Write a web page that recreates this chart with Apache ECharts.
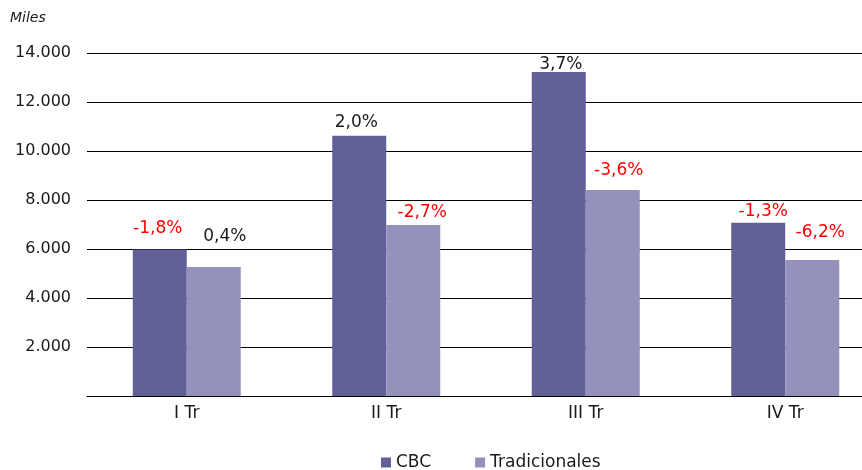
<!DOCTYPE html>
<html>
<head>
<meta charset="utf-8">
<script src="https://cdn.jsdelivr.net/npm/echarts@6/dist/echarts.min.js"></script>
<style>
	html, body { margin: 0; padding: 0; background: #fff; overflow: hidden; }
	#wrap { width: 862px; height: 470px; overflow: hidden; }
	#chart { width: 885px; height: 470px; }
</style>
</head>
<body>
<div id="wrap"><div id="chart"></div></div>
<script>
//	datos del gráfico
var categories = ['I Tr', 'II Tr', 'III Tr', 'IV Tr'];
var cbcValues = [5980, 10620, 13220, 7070];
var tradValues = [5270, 6980, 8410, 5550];
var cbcPct = [-1.8, 2.0, 3.7, -1.3];
var tradPct = [0.4, -2.7, -3.6, -6.2];
var yTicks = [0, 2000, 4000, 6000, 8000, 10000, 12000, 14000];

//	posición de las etiquetas
var cbcLabelOffset = [-2, -3, 2, 5];
var tradLabelOffset = [11, 9, 6, 8];
var cbcLabelDist = [12, 5, -1, 3];
var tradLabelDist = [22, 4, 11, 19];

var FONT = '"DejaVu Sans", Verdana, sans-serif';

function fmtPct(v) {
	return v.toFixed(1).replace('.', ',') + '%';
}
function fmtMiles(v) {
	if(v === 0) return '';
	return String(v).replace(/\B(?=(\d{3})+(?!\d))/g, '.');
}

function buildData(values, pct, offX, dist) {
	return values.map(function(v, i) {
		return {
			value: v,
			label: {
				show: true,
				position: 'top',
				distance: dist[i],
				offset: [offX[i], 0],
				formatter: fmtPct(pct[i]),
				color: pct[i] < 0 ? '#ff0000' : '#1a1a1a',
				fontSize: 17,
				fontFamily: FONT
			}
		};
	});
}

var chart = echarts.init(document.getElementById('chart'));

var option = {
	animation: false,
	backgroundColor: '#fff',
	grid: {
		left: 87,
		right: 0,
		top: 53,
		bottom: 74
	},
	graphic: [{
		type: 'text',
		left: 10,
		top: 11,
		style: {
			text: 'Miles',
			font: 'italic 14px ' + FONT,
			fill: '#1a1a1a'
		}
	}],
	legend: {
		left: 376,
		top: 449,
		itemWidth: 10,
		itemHeight: 10,
		itemGap: 44,
		icon: 'rect',
		textStyle: { fontSize: 17, color: '#1a1a1a', fontFamily: FONT },
		data: ['CBC', 'Tradicionales']
	},
	xAxis: {
		type: 'category',
		data: categories,
		axisLine: { lineStyle: { color: '#000', width: 1 } },
		axisTick: { show: false },
		axisLabel: { color: '#1a1a1a', fontSize: 17, fontFamily: FONT, margin: 9 }
	},
	yAxis: {
		type: 'value',
		min: yTicks[0],
		max: yTicks[yTicks.length - 1],
		interval: 2000,
		axisLine: { show: false },
		axisTick: { show: false },
		splitLine: { lineStyle: { color: '#000', width: 1 } },
		axisLabel: {
			color: '#1a1a1a',
			fontSize: 16,
			fontFamily: FONT,
			margin: 16,
			formatter: fmtMiles
		}
	},
	series: [{
		name: 'CBC',
		type: 'bar',
		barWidth: 54,
		barGap: '0%',
		itemStyle: { color: '#616198' },
		data: buildData(cbcValues, cbcPct, cbcLabelOffset, cbcLabelDist)
	}, {
		name: 'Tradicionales',
		type: 'bar',
		barWidth: 54,
		itemStyle: { color: '#9491bc' },
		data: buildData(tradValues, tradPct, tradLabelOffset, tradLabelDist)
	}]
};

chart.setOption(option);
</script>
</body>
</html>
